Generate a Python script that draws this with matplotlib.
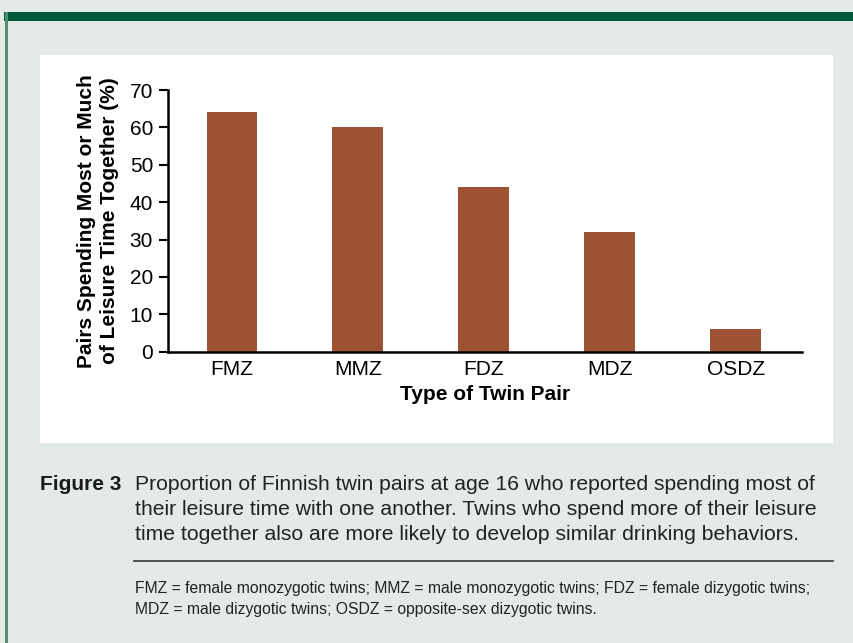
import matplotlib.pyplot as plt
from matplotlib.patches import Rectangle
from matplotlib.lines import Line2D

plt.rcParams['font.family'] = ['Liberation Sans', 'DejaVu Sans']

# Datos
pairs = ["FMZ", "MMZ", "FDZ", "MDZ", "OSDZ"]
percent = [64, 60, 44, 32, 6]
y_ticks = [0, 10, 20, 30, 40, 50, 60, 70]

W, H = 854, 643
fig = plt.figure(figsize=(W / 100, H / 100), dpi=100)
fig.patch.set_facecolor("#E4EBE7")

def px(x0, y0, x1, y1):
    # rectangulo en pixeles (origen arriba a la izquierda)
    return (x0 / W, 1 - y1 / H), (x1 - x0) / W, (y1 - y0) / H

# Banda verde superior, borde izquierdo y panel blanco
for (x0, y0, x1, y1, c) in [(4, 12, 854, 21, "#005A3C"),
                            (5, 12, 8, 643, "#4F8D74"),
                            (40, 55, 833, 443, "white")]:
    xy, w, h = px(x0, y0, x1, y1)
    fig.patches.append(Rectangle(xy, w, h, transform=fig.transFigure,
                                 facecolor=c, edgecolor="none", zorder=-10))

ax = fig.add_axes([167.7 / W, 1 - 351.7 / H, (801.7 - 167.7) / W, (351.7 - 90) / H])
ax.set_zorder(1)
ax.patch.set_alpha(0)
ax.bar(range(len(pairs)), percent, width=0.4, color="#9C5233")
ax.set_xlim(-0.508, 4.524)
ax.set_ylim(0, 70)
ax.set_yticks(y_ticks)
ax.set_xticks(range(len(pairs)))
ax.set_xticklabels(pairs, fontsize=15)
ax.tick_params(axis="y", labelsize=15, length=6.5, width=1.5, pad=4)
ax.tick_params(axis="x", length=0, pad=6)
for s in ["top", "right"]:
    ax.spines[s].set_visible(False)
for s in ["left", "bottom"]:
    ax.spines[s].set_linewidth(1.8)
ax.set_ylabel("Pairs Spending Most or Much\nof Leisure Time Together (%)",
              fontsize=15, fontweight="bold", linespacing=1.25, labelpad=8)
ax.set_xlabel("Type of Twin Pair", fontsize=15, fontweight="bold", labelpad=4)

# Pie de figura
fig.text(40 / W, 1 - 485 / H, "Figure 3", fontsize=15, fontweight="bold",
         va="center", color="#1a1a1a")
caption = ["Proportion of Finnish twin pairs at age 16 who reported spending most of",
           "their leisure time with one another. Twins who spend more of their leisure",
           "time together also are more likely to develop similar drinking behaviors."]
for i, line in enumerate(caption):
    fig.text(135 / W, 1 - (485 + 24.5 * i) / H, line, fontsize=15.2,
             va="center", color="#222222")
fig.add_artist(Line2D([134 / W, 833 / W], [1 - 561 / H, 1 - 561 / H],
                      transform=fig.transFigure, color="#444444", lw=1.3))
notes = ["FMZ = female monozygotic twins; MMZ = male monozygotic twins; FDZ = female dizygotic twins;",
         "MDZ = male dizygotic twins; OSDZ = opposite-sex dizygotic twins."]
for i, line in enumerate(notes):
    fig.text(135 / W, 1 - (589 + 20.5 * i) / H, line, fontsize=11.3,
             va="center", color="#222222")

fig.savefig("out.png", dpi=100, facecolor=fig.get_facecolor())
